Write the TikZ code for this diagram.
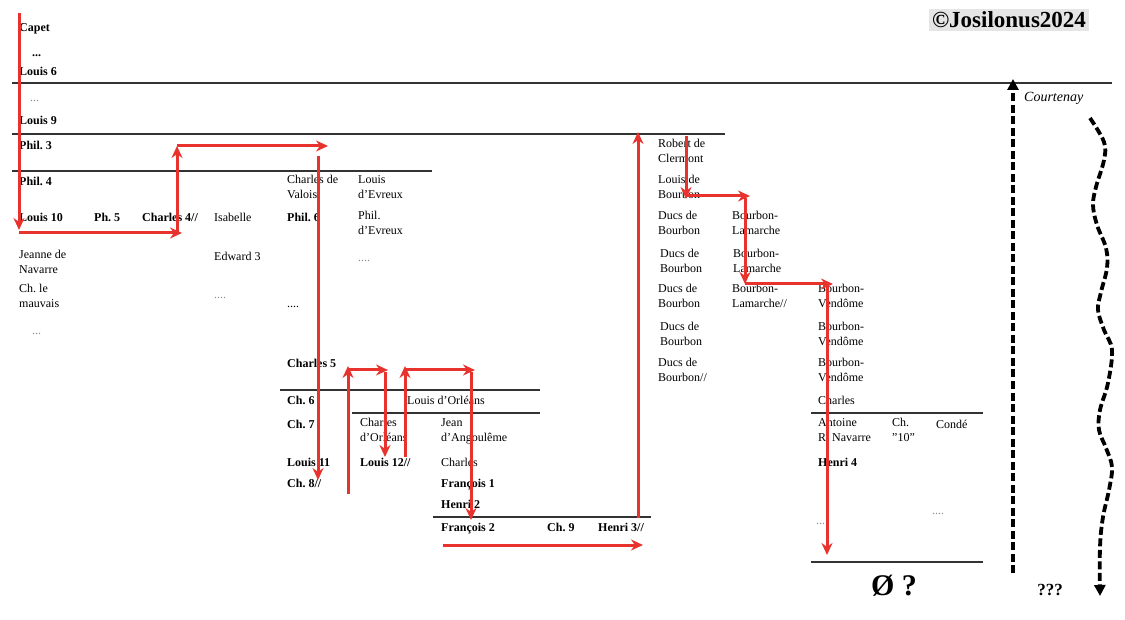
\documentclass[tikz,border=0pt]{standalone}
\usepackage{fontspec}
\setmainfont{Liberation Serif}
\usetikzlibrary{arrows.meta}
\definecolor{lineRed}{RGB}{232,50,46}
\frenchspacing

\begin{document}
\begin{tikzpicture}[
  x=1pt, y=-1pt,
  person/.style={anchor=north west, inner sep=0pt, align=left, font=\fontsize{12}{15}\selectfont, execute at begin node=\strut},
  king/.style={person, font=\fontsize{12}{15}\selectfont\bfseries},
  dots/.style={person, text=black!45},
  divider/.style={draw=black!80, line width=1.5pt},
  redarrow/.style={-{Stealth[length=12pt,width=11pt]}, draw=lineRed, line width=3pt},
  dasharrow/.style={-{Triangle[length=11pt,width=11pt]}, line width=3.8pt, dash pattern=on 8pt off 3.5pt}
]
\useasboundingbox (0,0) rectangle (1125,620);

% Capetiens
\node[king](capet) at (19,21) {Capet};
\node[king](dotsA) at (32,46) {...};
\node[king](louisVI) at (19,65) {Louis 6};
\node[dots](dotsB) at (30,91) {...};
\node[king](louisIX) at (19,114) {Louis 9};
\node[king](philIII) at (19,139) {Phil. 3};
\node[king](philIV) at (19,175) {Phil. 4};
\node[king](louisX) at (19,211) {Louis 10};
\node[king](philV) at (94,211) {Ph. 5};
\node[king](charlesIV) at (142,211) {Charles 4//};
\node[person](isabelle) at (214,211) {Isabelle};
\node[person](jeanne) at (19,250) {Jeanne de\\Navarre};
\node[person](edwardIII) at (214,250) {Edward 3};
\node[person](chMauvais) at (19,284) {Ch. le\\mauvais};
\node[dots](dotsD) at (214,288) {....};
\node[dots](dotsF) at (32,324) {...};

% Valois
\node[person](charlesValois) at (287,175) {Charles de\\Valois};
\node[person](louisEvreux) at (358,175) {Louis\\d'Evreux};
\node[king](philVI) at (287,211) {Phil. 6};
\node[person](philEvreux) at (358,211) {Phil.\\d'Evreux};
\node[dots](dotsC) at (358,251) {....};
\node[dots,text=black](dotsE) at (287,297) {....};
\node[king](charlesV) at (287,357) {Charles 5};
\node[king](charlesVI) at (287,394) {Ch. 6};
\node[person](louisOrleans) at (407,394) {Louis d'Orléans};
\node[king](charlesVII) at (287,418) {Ch. 7};
\node[person](charlesOrleans) at (360,418) {Charles\\d'Orléans};
\node[person](jeanAngouleme) at (441,418) {Jean\\d'Angoulême};
\node[king](louisXI) at (287,456) {Louis 11};
\node[king](louisXII) at (360,456) {Louis 12//};
\node[person](charlesAngouleme) at (441,456) {Charles};
\node[king](charlesVIII) at (287,477) {Ch. 8//};
\node[king](francoisI) at (441,477) {François 1};
\node[king](henriII) at (441,498) {Henri 2};
\node[king](francoisII) at (441,521) {François 2};
\node[king](charlesIX) at (547,521) {Ch. 9};
\node[king](henriIII) at (598,521) {Henri 3//};

% Bourbons
\node[person](robert) at (658,139) {Robert de\\Clermont};
\node[person](louisBourbon) at (658,175) {Louis de\\Bourbon};
\node[person](ducsA) at (658,211) {Ducs de\\Bourbon};
\node[person](lamarcheA) at (732,211) {Bourbon-\\Lamarche};
\node[person](ducsB) at (660,249) {Ducs de\\Bourbon};
\node[person](lamarcheB) at (733,249) {Bourbon-\\Lamarche};
\node[person](ducsC) at (658,284) {Ducs de\\Bourbon};
\node[person](lamarcheC) at (732,284) {Bourbon-\\Lamarche//};
\node[person](vendomeA) at (818,284) {Bourbon-\\Vendôme};
\node[person](ducsD) at (660,322) {Ducs de\\Bourbon};
\node[person](vendomeB) at (818,322) {Bourbon-\\Vendôme};
\node[person](ducsE) at (658,358) {Ducs de\\Bourbon//};
\node[person](vendomeC) at (818,358) {Bourbon-\\Vendôme};
\node[person](charlesVendome) at (818,394) {Charles};
\node[person](antoine) at (818,418) {Antoine\\R. Navarre};
\node[person](chDix) at (892,418) {Ch.\\"10"};
\node[person](conde) at (936,418) {Condé};
\node[king](henriIV) at (818,456) {Henri 4};
\node[dots](dotsG) at (816,514) {...};
\node[dots](dotsH) at (932,504) {....};

\node[font=\fontsize{30}{30}\selectfont\bfseries](extinct) at (894,586) {Ø ?};
\node[font=\fontsize{17}{17}\selectfont\bfseries](unknown) at (1050,590) {???};
\node[fill=black!10, inner sep=3pt, font=\fontsize{23}{23}\selectfont\bfseries](copyright) at (1009,20) {©Josilonus2024};
\node[anchor=west, inner sep=0pt, font=\fontsize{14}{14}\selectfont\itshape](courtenay) at (1024,98) {Courtenay};

% separations
\draw[divider] (12,83) -- (1112,83);
\draw[divider] (12,134) -- (725,134);
\draw[divider] (12,171) -- (432,171);
\draw[divider] (280,390) -- (540,390);
\draw[divider] (352,413) -- (540,413);
\draw[divider] (433,517) -- (651,517);
\draw[divider] (811,413) -- (983,413);
\draw[divider] (811,562) -- (983,562);

% succession, Capet -> Valois
\coordinate (capetTop) at (19,13);
\coordinate (louisXEnd) at (19,230);
\coordinate (louisXLow) at (19,233);
\coordinate (charlesIVLow) at (182,233);
\coordinate (charlesIVUp) at (177,233);
\coordinate (philIIIMid) at (177,146);
\coordinate (valoisTurn) at (328,146);
\coordinate (valoisTop) at (318,156);
\coordinate (charlesVIIIEnd) at (318,480);
\draw[redarrow] (capetTop) -- (louisXEnd);
\draw[redarrow] (louisXLow) -- (charlesIVLow);
\draw[redarrow] (charlesIVUp) -- (philIIIMid);
\draw[redarrow] (philIIIMid) -- (valoisTurn);
\draw[redarrow] (valoisTop) -- (charlesVIIIEnd);

% Orleans, Angouleme
\coordinate (orleansLow) at (348,494);
\coordinate (orleansTop) at (348,366);
\coordinate (orleansTurn) at (388,370);
\coordinate (louisXIITop) at (385,372);
\coordinate (louisXIIEnd) at (385,457);
\coordinate (angLow) at (405,457);
\coordinate (angTop) at (405,366);
\coordinate (angTurn) at (475,370);
\coordinate (henriIITop) at (471,372);
\coordinate (henriIIEnd) at (471,520);
\coordinate (francoisIILeft) at (443,545);
\coordinate (henriIIIRight) at (643,545);
\draw[redarrow] (orleansLow) -- (orleansTop);
\draw[redarrow] (orleansTop |- orleansTurn) -- (orleansTurn);
\draw[redarrow] (louisXIITop) -- (louisXIIEnd);
\draw[redarrow] (angLow) -- (angTop);
\draw[redarrow] (angTop |- angTurn) -- (angTurn);
\draw[redarrow] (henriIITop) -- (henriIIEnd);
\draw[redarrow] (francoisIILeft) -- (henriIIIRight);

% Bourbon
\coordinate (henriIIILow) at (638,518);
\coordinate (bourbonTop) at (638,132);
\coordinate (robertTop) at (686,136);
\coordinate (louisBourbonEnd) at (686,199);
\coordinate (lamarcheLeft) at (686,196);
\coordinate (lamarcheTurn) at (750,196);
\coordinate (lamarcheTop) at (745,198);
\coordinate (lamarcheEnd) at (745,284);
\coordinate (vendomeLeft) at (745,284);
\coordinate (vendomeTurn) at (833,284);
\coordinate (vendomeTop) at (827,286);
\coordinate (henriIVEnd) at (827,555);
\draw[redarrow] (henriIIILow) -- (bourbonTop);
\draw[redarrow] (robertTop) -- (louisBourbonEnd);
\draw[redarrow] (lamarcheLeft) -- (lamarcheTurn);
\draw[redarrow] (lamarcheTop) -- (lamarcheEnd);
\draw[redarrow] (vendomeLeft) -- (vendomeTurn);
\draw[redarrow] (vendomeTop) -- (henriIVEnd);

% Courtenay
\coordinate (courtenayLow) at (1013,573);
\coordinate (courtenayTop) at (1013,79);
\draw[dasharrow] (courtenayLow) -- (courtenayTop);
\draw[dasharrow] plot[smooth, tension=0.6] coordinates {(1090,118) (1104,142) (1104,160) (1096,187) (1093,205) (1097,225) (1106,248) (1107,268) (1101,292) (1098,310) (1104,330) (1112,350) (1108,383) (1100,410) (1099,430) (1106,448) (1112,467) (1109,490) (1103,517) (1100,547) (1100,596)};
\end{tikzpicture}
\end{document}
